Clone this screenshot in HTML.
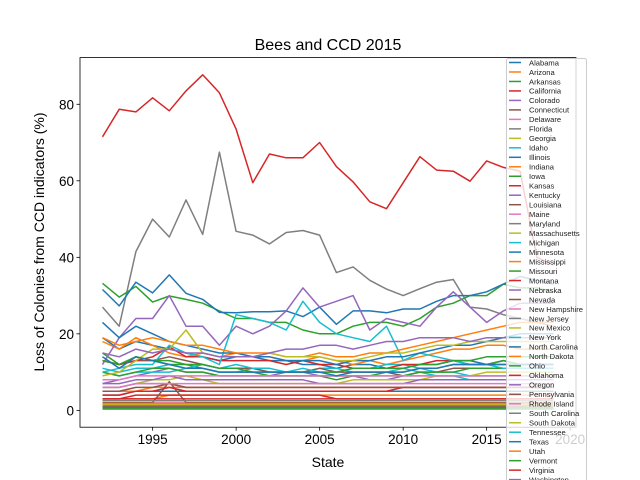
<!DOCTYPE html>
<html><head><meta charset="utf-8">
<style>
html,body{margin:0;background:#fff;width:640px;height:480px;overflow:hidden;}
svg{display:block;font-family:"Liberation Sans","DejaVu Sans",sans-serif;overflow:hidden;}
</style></head>
<body>
<svg id="chart" width="640" height="480" viewBox="0 0 640 480">
<text x="328" y="50" text-anchor="middle" font-size="16" fill="#000">Bees and CCD 2015</text>
<g id="plot"></g>
<text x="328" y="467" text-anchor="middle" font-size="14">State</text>
<text transform="translate(44,242) rotate(-90)" text-anchor="middle" font-size="14">Loss of Colonies from CCD indicators (%)</text>
</svg>
<script>
const years = [1992,1993,1994,1995,1996,1997,1998,1999,2000,2001,2002,2003,2004,2005,2006,2007,2008,2009,2010,2011,2012,2013,2014,2015,2016,2017,2018,2019];
const states = ["Alabama","Arizona","Arkansas","California","Colorado","Connecticut","Delaware","Florida","Georgia","Idaho","Illinois","Indiana","Iowa","Kansas","Kentucky","Louisiana","Maine","Maryland","Massachusetts","Michigan","Minnesota","Mississippi","Missouri","Montana","Nebraska","Nevada","New Hampshire","New Jersey","New Mexico","New York","North Carolina","North Dakota","Ohio","Oklahoma","Oregon","Pennsylvania","Rhode Island","South Carolina","South Dakota","Tennessee","Texas","Utah","Vermont","Virginia","Washington","West Virginia","Wisconsin","Wyoming"];
const xTicks = [1995,2000,2005,2010,2015,2020];
const yTicks = [0,20,40,60,80];
const values = [
/*Alabama*/[19,16,18,17,16,15,14,13,14,14,13,13,12,12,11,12,12,11,11,12,12,13,13,12,13,12,12,12],
/*Arizona*/[18,16,19,17,15,14,15,14,15,14,14,13,13,14,13,12,13,12,13,14,15,16,16,17,17,16,16,16],
/*Arkansas*/[15,12,14,13,12,12,11,10,10,10,9,9,9,9,8,9,9,10,10,11,11,12,12,12,13,12,12,12],
/*California*/[71.5,78.7,78,81.7,78.3,83.5,87.7,83,73.5,59.5,67,66,66,70,63.7,59.7,54.5,52.7,59.5,66.3,62.8,62.5,59.9,65.2,63.5,62.5,40,38],
/*Colorado*/[7,8,9,10,11,10,10,9,9,9,9,10,10,9,9,9,8,8,9,9,9,9,9,9,9,9,9,9],
/*Connecticut*/[1,1,1,1,1,1,1,1,1,1,1,1,1,1,1,1,1,1,1,1,1,1,1,1,1,1,1,1],
/*Delaware*/[0.5,0.5,0.5,0.5,0.5,0.5,0.5,0.5,0.5,0.5,0.5,0.5,0.5,0.5,0.5,0.5,0.5,0.5,0.5,0.5,0.5,0.5,0.5,0.5,0.5,0.5,0.5,0.5],
/*Florida*/[27,22,41.5,50,45.3,55,46,67.5,46.8,45.8,43.5,46.5,47,45.8,36,37.5,34,31.7,30,31.8,33.5,34.2,27,26.5,25,24,23,22],
/*Georgia*/[6,6,7,8,8,9,8,7,7,7,7,7,7,7,7,8,8,8,8,8,9,9,9,10,10,10,10,10],
/*Idaho*/[11,10,11,11,12,11,11,10,10,11,10,10,10,11,11,10,10,10,11,10,9,9,8,8,8,8,8,8],
/*Illinois*/[4,4,5,5,5,5,5,5,5,5,5,5,5,5,5,5,5,5,5,5,5,5,5,5,5,5,5,5],
/*Indiana*/[3,3,3,3,4,4,4,4,4,4,4,4,4,4,4,4,4,4,4,4,4,4,4,4,4,4,4,4],
/*Iowa*/[33.2,29.6,32.4,28.3,29.9,29,28,26,24,24,23,23,21,20,20,22,23,23,22,24,27,28,30,30,33,32,32,31],
/*Kansas*/[3,3,4,4,4,4,4,4,4,4,4,4,4,4,3,3,3,3,3,3,3,3,3,3,3,3,3,3],
/*Kentucky*/[6,6,7,7,7,6,6,6,6,6,6,6,6,6,6,6,6,6,6,6,6,6,6,6,6,6,6,6],
/*Louisiana*/[13,12,13,13,14,13,12,11,11,11,10,10,10,11,10,10,10,10,9,10,10,11,11,11,11,11,11,11],
/*Maine*/[2,2,2,2,2,2,2,2,2,2,2,2,2,2,2,2,2,2,2,2,2,2,2,2,2,2,2,2],
/*Maryland*/[1.5,1.5,1.5,1.5,1.5,1.5,1.5,1.5,1.5,1.5,1.5,1.5,1.5,1.5,1.5,1.5,1.5,1.5,1.5,1.5,1.5,1.5,1.5,1.5,1.5,1.5,1.5,1.5],
/*Massachusetts*/[0.8,0.8,0.8,0.8,0.8,0.8,0.8,0.8,0.8,0.8,0.8,0.8,0.8,0.8,0.8,0.8,0.8,0.8,0.8,0.8,0.8,0.8,0.8,0.8,0.8,0.8,0.8,0.8],
/*Michigan*/[10,9,10,10,10,11,12,11,12,11,11,10,11,10,10,11,11,12,12,11,10,10,9,9,9,9,9,9],
/*Minnesota*/[31.6,27.3,33.5,30.7,35.4,30.6,29,25.6,25.5,25.8,25.8,26,24.5,27,22.5,26,26,25.5,26.5,26.5,28.5,30,30,31,33,35,34,33],
/*Mississippi*/[5,5,5,6,6,6,6,6,6,6,6,6,6,6,6,6,6,6,6,6,6,6,6,6,6,6,6,6],
/*Missouri*/[10,9,10,11,11,10,10,9,9,9,9,9,9,9,9,9,9,9,9,10,10,10,11,11,11,11,11,11],
/*Montana*/[13,12,13,14,16.6,14,14,13,13,13,13,12,13,12,12,11,11,11,12,12,13,13,12,12,12,12,12,12],
/*Nebraska*/[12,19,24,24,30,22,22,17,22,20,22,26,32,27,28.5,30,21,24,23,22,27,31,27,23,26,28,28,28],
/*Nevada*/[2,2,2,2,7.5,2,2,2,2,2,2,2,2,2,2,2,2,2,2,2,2,2,2,2,2,2,2,2],
/*New Hampshire*/[0.3,0.3,0.3,0.3,0.3,0.3,0.3,0.3,0.3,0.3,0.3,0.3,0.3,0.3,0.3,0.3,0.3,0.3,0.3,0.3,0.3,0.3,0.3,0.3,0.3,0.3,0.3,0.3],
/*New Jersey*/[1.2,1.2,1.2,1.2,1.2,1.2,1.2,1.2,1.2,1.2,1.2,1.2,1.2,1.2,1.2,1.2,1.2,1.2,1.2,1.2,1.2,1.2,1.2,1.2,1.2,1.2,1.2,1.2],
/*New Mexico*/[1.6,1.6,1.6,1.6,1.6,1.6,1.6,1.6,1.6,1.6,1.6,1.6,1.6,1.6,1.6,1.6,1.6,1.6,1.6,1.6,1.6,1.6,1.6,1.6,1.6,1.6,1.6,1.6],
/*New York*/[10,11,12,12,17,15,14,12,25,24,23,21,28.5,23,20,19,18,22,13,15,14,13,12,12,11,11,11,11],
/*North Carolina*/[23,19,22,20,18,17,16,15,15,14,14,13,13,13,12,13,13,14,14,15,16,17,17,18,19,20,20,20],
/*North Dakota*/[19,17,18,19,18,17,17,16,15,15,15,14,14,15,14,14,15,15,16,17,18,19,20,21,22,23,23,23],
/*Ohio*/[13,12,14,13,13,12,12,11,11,10,10,10,10,10,10,11,11,11,11,12,12,13,13,14,14,14,14,14],
/*Oklahoma*/[4,4,5,5,6,5,5,5,5,5,5,5,5,5,5,5,5,5,6,6,6,6,6,6,6,6,6,6],
/*Oregon*/[7,7,8,8,9,8,8,8,8,8,8,8,8,7,7,7,7,7,7,8,8,8,8,8,8,8,8,8],
/*Pennsylvania*/[5,5,6,6,7,6,6,6,6,6,6,6,6,6,6,6,6,6,6,6,6,6,6,6,6,6,6,6],
/*Rhode Island*/[8,8,9,9,9,9,9,9,9,9,9,9,9,9,9,9,9,9,9,9,9,9,9,9,9,9,9,9],
/*South Carolina*/[0.4,0.4,0.4,0.4,0.4,0.4,0.4,0.4,0.4,0.4,0.4,0.4,0.4,0.4,0.4,0.4,0.4,0.4,0.4,0.4,0.4,0.4,0.4,0.4,0.4,0.4,0.4,0.4],
/*South Dakota*/[9,10,13,16,16,21,15,14,14,14,15,14,14,14,13,13,14,15,15,16,17,17,18,18,18,18,18,18],
/*Tennessee*/[1,1,1,1,1,1,1,1,1,1,1,1,1,1,1,1,1,1,1,1,1,1,1,1,1,1,1,1],
/*Texas*/[14,11,14,13,12,11,11,10,10,10,10,10,10,10,9,10,10,10,10,11,11,12,12,12,12,12,12,12],
/*Utah*/[1.8,1.8,1.8,1.8,1.8,1.8,1.8,1.8,1.8,1.8,1.8,1.8,1.8,1.8,1.8,1.8,1.8,1.8,1.8,1.8,1.8,1.8,1.8,1.8,1.8,1.8,1.8,1.8],
/*Vermont*/[0.6,0.6,0.6,0.6,0.6,0.6,0.6,0.6,0.6,0.6,0.6,0.6,0.6,0.6,0.6,0.6,0.6,0.6,0.6,0.6,0.6,0.6,0.6,0.6,0.6,0.6,0.6,0.6],
/*Virginia*/[3,3,3,3,3,3,3,3,3,3,3,3,3,3,3,3,3,3,3,3,3,3,3,3,3,3,3,3],
/*Washington*/[15,14,16,15,16,15,15,14,14,14,15,16,16,17,17,16,17,18,18,19,19,19,18,19,19,19,19,19],
/*West Virginia*/[0.9,0.9,0.9,0.9,0.9,0.9,0.9,0.9,0.9,0.9,0.9,0.9,0.9,0.9,0.9,0.9,0.9,0.9,0.9,0.9,0.9,0.9,0.9,0.9,0.9,0.9,0.9,0.9],
/*Wisconsin*/[6,6,7,7,7,7,7,7,7,7,7,7,7,7,7,7,7,7,7,7,7,7,7,7,7,7,7,7],
/*Wyoming*/[2.5,2.5,2.5,2.5,2.5,2.5,2.5,2.5,2.5,2.5,2.5,2.5,2.5,2.5,2.5,2.5,2.5,2.5,2.5,2.5,2.5,2.5,2.5,2.5,2.5,2.5,2.5,2.5]
];
const palette = ["#1f77b4","#ff7f0e","#2ca02c","#d62728","#9467bd","#8c564b","#e377c2","#7f7f7f","#bcbd22","#17becf"];

const NS="http://www.w3.org/2000/svg";
const L=80,R=576,T=57.6,B=427.2;
const x0=1990.65,x1=2020.35,y0=-4.4,y1=92.2;
function xs(v){return L+(v-x0)/(x1-x0)*(R-L);}
function ys(v){return B-(v-y0)/(y1-y0)*(B-T);}
function mk(tag,attrs,parent){const e=document.createElementNS(NS,tag);for(const k in attrs)e.setAttribute(k,attrs[k]);parent.appendChild(e);return e;}
const plot=document.getElementById('plot');
const defs=mk('defs',{},plot);
const cp=mk('clipPath',{id:'clip'},defs);
mk('rect',{x:L,y:T,width:R-L,height:B-T},cp);
const cp2=mk('clipPath',{id:'clipAll'},defs);
mk('rect',{x:0,y:0,width:640,height:480},cp2);
const lines=mk('g',{'clip-path':'url(#clip)'},plot);


values.forEach((arr,i)=>{
  const pts=arr.map((v,j)=>xs(years[j]).toFixed(1)+','+ys(v).toFixed(1)).join(' ');
  const p=mk('polyline',{points:pts,fill:'none',stroke:palette[i%10],'stroke-width':1.5,'stroke-linejoin':'round'},lines);
  
  
});
const frame=mk('rect',{x:L,y:T,width:R-L,height:B-T,fill:'none',stroke:'#000','stroke-width':0.8},plot);


xTicks.forEach(t=>{
  const x=xs(t);
  mk('line',{x1:x,x2:x,y1:B,y2:B+3.5,stroke:'#000','stroke-width':0.8},plot);
  const tx=mk('text',{x:x,y:B+17,'text-anchor':'middle','font-size':13.5},plot);
  tx.textContent=t;
  
  
});
yTicks.forEach(t=>{
  const y=ys(t);
  mk('line',{x1:L-3.5,x2:L,y1:y,y2:y,stroke:'#000','stroke-width':0.8},plot);
  const tx=mk('text',{x:L-6,y:y+5,'text-anchor':'end','font-size':13.5},plot);
  tx.textContent=t;
  
  
});
const leg=mk('g',{'clip-path':'url(#clipAll)'},plot);


mk('rect',{x:506.5,y:58.5,width:80,height:425,fill:'#fff','fill-opacity':0.8,stroke:'#ccc','stroke-width':1,rx:2},leg);
states.forEach((s,i)=>{
  const y=62.5+i*9.48;
  if(y>486) return;
  mk('line',{x1:509,x2:521,y1:y,y2:y,stroke:palette[i%10],'stroke-width':1.5},leg);
  const tx=mk('text',{x:529,y:y+2.8,'font-size':7.6,fill:'#222'},leg);
  tx.textContent=s;
  
  
});
</script>
</body></html>
